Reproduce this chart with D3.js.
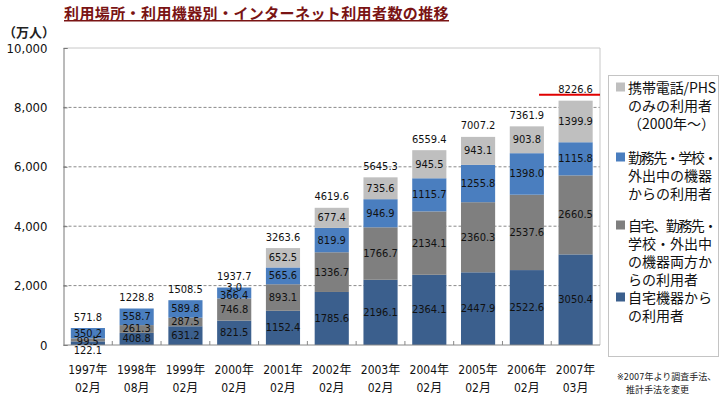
<!DOCTYPE html>
<html lang="ja">
<head>
    <meta charset="UTF-8">
    <title>利用場所・利用機器別・インターネット利用者数の推移</title>
    <script src="https://d3js.org/d3.v7.min.js"></script>
    <style>
        body {
            margin: 0;
            background: #fff;
        }
        text {
            font-family: "DejaVu Sans Condensed", "DejaVu Sans", "Noto Sans CJK JP", sans-serif;
        }
        .jp {
            font-family: "Noto Sans CJK JP", sans-serif;
        }
    </style>
</head>
<body>
    <script>
        // data (万人)
        const years = ["1997年", "1998年", "1999年", "2000年", "2001年", "2002年", "2003年", "2004年", "2005年", "2006年", "2007年"];
        const months = ["02月", "08月", "02月", "02月", "02月", "02月", "02月", "02月", "02月", "02月", "03月"];
        const homeOnly = [122.1, 408.8, 631.2, 821.5, 1152.4, 1785.6, 2196.1, 2364.1, 2447.9, 2522.6, 3050.4];
        const homeAndOther = [99.5, 261.3, 287.5, 746.8, 893.1, 1336.7, 1766.7, 2134.1, 2360.3, 2537.6, 2660.5];
        const workOther = [350.2, 558.7, 589.8, 366.4, 565.6, 819.9, 946.9, 1115.7, 1255.8, 1398.0, 1115.8];
        const mobileOnly = [null, null, null, 3.0, 652.5, 677.4, 735.6, 945.5, 943.1, 903.8, 1399.9];
        const totals = [571.8, 1228.8, 1508.5, 1937.7, 3263.6, 4619.6, 5645.3, 6559.4, 7007.2, 7361.9, 8226.6];
        const yTicks = [0, 2000, 4000, 6000, 8000, 10000];

        const seriesKeys = ["home", "both", "work", "mobile"];
        const seriesColor = d3.scaleOrdinal()
            .domain(seriesKeys)
            .range(["#3B5F8D", "#7F7F7F", "#4A7EBF", "#BFBFBF"]);

        const legendItems = [
            { key: "mobile", lines: ["携帯電話/PHS", "のみの利用者", "（2000年～）"] },
            { key: "work", lines: ["勤務先・学校・", "外出中の機器", "からの利用者"] },
            { key: "both", lines: ["自宅、勤務先・", "学校・外出中", "の機器両方か", "らの利用者"] },
            { key: "home", lines: ["自宅機器から", "の利用者"] }
        ];

        const rows = years.map((y, i) => ({
            year: y,
            month: months[i],
            home: homeOnly[i],
            both: homeAndOther[i],
            work: workOther[i],
            mobile: mobileOnly[i] || 0,
            hasMobile: mobileOnly[i] !== null,
            total: totals[i]
        }));

        const width = 720, height = 399;
        const plot = { left: 63.5, right: 600, top: 48, bottom: 345 };

        const svg = d3.select("body").append("svg")
            .attr("width", width)
            .attr("height", height);

        const x = d3.scaleBand()
            .domain(years)
            .range([plot.left, plot.right])
            .paddingInner(0.3)
            .paddingOuter(0.15);

        const y = d3.scaleLinear()
            .domain([0, 10000])
            .range([plot.bottom, plot.top]);

        // title
        svg.append("text")
            .attr("class", "jp")
            .attr("x", 64)
            .attr("y", 19)
            .attr("font-size", 15)
            .attr("font-weight", "bold")
            .attr("letter-spacing", 0.4)
            .attr("fill", "#7A1414")
            .attr("text-decoration", "underline")
            .text("利用場所・利用機器別・インターネット利用者数の推移");

        // unit
        svg.append("text")
            .attr("class", "jp")
            .attr("x", 3)
            .attr("y", 37)
            .attr("font-size", 13)
            .attr("font-weight", "bold")
            .attr("fill", "#222")
            .text("（万人）");

        // gridlines
        svg.append("g")
            .selectAll("line")
            .data(yTicks.filter(d => d > 0 && d < 10000))
            .join("line")
            .attr("x1", plot.left)
            .attr("x2", plot.right)
            .attr("y1", d => y(d))
            .attr("y2", d => y(d))
            .attr("stroke", "#8a8a8a")
            .attr("stroke-dasharray", "3,2");

        // plot frame (top + right)
        svg.append("path")
            .attr("d", `M${plot.left},${y(10000)}H${plot.right}V${plot.bottom}`)
            .attr("fill", "none")
            .attr("stroke", "#c8c8c8");

        // y axis
        const yAxis = d3.axisLeft(y)
            .tickValues(yTicks)
            .tickSize(-4)
            .tickPadding(16)
            .tickFormat(d3.format(","));
        const yG = svg.append("g")
            .attr("transform", `translate(${plot.left},0)`)
            .call(yAxis);
        yG.select(".domain").attr("stroke", "#777");
        yG.selectAll(".tick line").attr("stroke", "#777");
        yG.selectAll(".tick text")
            .attr("font-size", 13)
            .attr("font-family", "DejaVu Sans, sans-serif")
            .attr("fill", "#111");

        // stacked bars
        const stack = d3.stack().keys(seriesKeys);
        const stacked = stack(rows);

        svg.append("g")
            .selectAll("g")
            .data(stacked)
            .join("g")
            .attr("fill", d => seriesColor(d.key))
            .selectAll("rect")
            .data(d => d)
            .join("rect")
            .attr("x", d => x(d.data.year))
            .attr("width", x.bandwidth())
            .attr("y", d => y(d[1]))
            .attr("height", d => y(d[0]) - y(d[1]));

        // x axis line and ticks between bars
        svg.append("line")
            .attr("x1", plot.left)
            .attr("x2", plot.right)
            .attr("y1", plot.bottom)
            .attr("y2", plot.bottom)
            .attr("stroke", "#888");

        const step = x.step();
        svg.append("g")
            .selectAll("line")
            .data(years.slice(1))
            .join("line")
            .attr("x1", d => x(d) - step * 0.15)
            .attr("x2", d => x(d) - step * 0.15)
            .attr("y1", plot.bottom)
            .attr("y2", plot.bottom - 4)
            .attr("stroke", "#888");

        // category labels
        const xLab = svg.append("g")
            .selectAll("text")
            .data(rows)
            .join("text")
            .attr("text-anchor", "middle")
            .attr("font-size", 12)
            .attr("fill", "#111")
            .attr("x", d => x(d.year) + x.bandwidth() / 2);
        xLab.append("tspan").attr("y", 374).text(d => d.year);
        xLab.append("tspan")
            .attr("x", d => x(d.year) + x.bandwidth() / 2)
            .attr("y", 392)
            .text(d => d.month);

        // value labels: top-down, pushed apart where segments are thin
        const labels = [];
        rows.forEach((r, i) => {
            const cx = x(r.year) + x.bandwidth() / 2;
            const list = [{ text: d3.format(".1f")(r.total), cy: y(r.total) - 11 }];
            for (let k = stacked.length - 1; k >= 0; k--) {
                const key = stacked[k].key;
                if (key === "mobile" && !r.hasMobile) continue;
                const seg = stacked[k][i];
                list.push({ text: d3.format(".1f")(r[key]), cy: (y(seg[0]) + y(seg[1])) / 2 });
            }
            let prev = -Infinity;
            list.forEach(l => {
                l.cy = Math.max(l.cy, prev + 8.5);
                prev = l.cy;
                labels.push({ text: l.text, x: cx, y: l.cy });
            });
        });

        svg.append("g")
            .selectAll("text")
            .data(labels)
            .join("text")
            .attr("x", d => d.x)
            .attr("y", d => d.y)
            .attr("text-anchor", "middle")
            .attr("dominant-baseline", "central")
            .attr("font-size", 11)
            .attr("fill", "#111")
            .text(d => d.text);

        // red underline on latest total
        const last = rows[rows.length - 1];
        svg.append("line")
            .attr("x1", x(last.year) - step * 0.4)
            .attr("x2", plot.right)
            .attr("y1", y(last.total) - 6)
            .attr("y2", y(last.total) - 6)
            .attr("stroke", "#E00000")
            .attr("stroke-width", 2);

        // legend
        const legend = svg.append("g").attr("class", "legend");
        legend.append("rect")
            .attr("x", 608.5)
            .attr("y", 75.5)
            .attr("width", 110)
            .attr("height", 281)
            .attr("fill", "none")
            .attr("stroke", "#888")
            .attr("stroke-dasharray", "1,1");

        const lineH = 18;
        const groupTop = [87, 157, 225, 297];
        legendItems.forEach((item, gi) => {
            const g = legend.append("g").attr("transform", `translate(614,${groupTop[gi]})`);
            g.append("rect")
                .attr("x", 2)
                .attr("y", -4.5)
                .attr("width", 9)
                .attr("height", 9)
                .attr("fill", seriesColor(item.key));
            g.selectAll("text")
                .data(item.lines)
                .join("text")
                .attr("class", "jp")
                .attr("x", 14)
                .attr("y", (d, i) => i * lineH)
                .attr("dominant-baseline", "central")
                .attr("font-size", 14)
                .attr("fill", "#111")
                .text(d => d)
                .each(function (d) {
                    // tighten lines whose full-width punctuation runs past the box
                    const len = this.getComputedTextLength();
                    if (len > 88) {
                        d3.select(this).attr("letter-spacing", -(len - 88) / d.length);
                    }
                });
        });

        // footnote
        const note = svg.append("g").attr("class", "jp");
        note.append("text")
            .attr("x", 617)
            .attr("y", 380)
            .attr("font-size", 9)
            .attr("fill", "#222")
            .text("※2007年より調査手法、");
        note.append("text")
            .attr("x", 626)
            .attr("y", 393)
            .attr("font-size", 9)
            .attr("fill", "#222")
            .text("推計手法を変更");
    </script>
</body>
</html>
